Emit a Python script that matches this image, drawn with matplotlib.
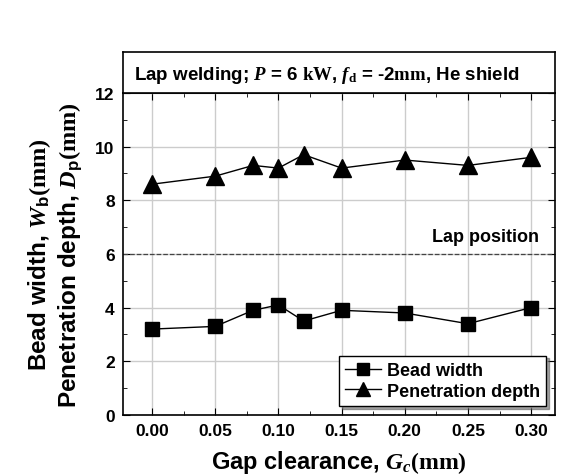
import matplotlib.pyplot as plt
import numpy as np

gap = [0.00, 0.05, 0.08, 0.10, 0.12, 0.15, 0.20, 0.25, 0.30]
bead_width = [3.2, 3.3, 3.9, 4.1, 3.5, 3.9, 3.8, 3.4, 4.0]
pen_depth = [8.6, 8.9, 9.3, 9.2, 9.7, 9.2, 9.5, 9.3, 9.6]
lap_pos = 6

plt.rcParams['font.family'] = 'Liberation Sans'
plt.rcParams['font.weight'] = 'bold'
plt.rcParams['mathtext.fontset'] = 'custom'
plt.rcParams['mathtext.rm'] = 'Liberation Serif'
plt.rcParams['mathtext.it'] = 'Liberation Serif:italic:bold'
plt.rcParams['mathtext.bf'] = 'Liberation Sans:bold'

fig = plt.figure(figsize=(5.63, 4.77), dpi=100)
ax = fig.add_axes([0.2185, 0.128, 0.7675, 0.675])

ax.plot(gap, bead_width, 'k-', marker='s', ms=10, lw=1, label='Bead width')
ax.plot(gap, pen_depth, 'k-', marker='^', ms=13, lw=1, label='Penetration depth')
ax.axhline(lap_pos, color='#444444', ls='--', lw=0.9)
ax.text(0.306, 6.35, 'Lap position', ha='right', va='bottom', fontsize=13, fontweight='bold')

ax.set_xlim(-0.023, 0.319)
ax.set_ylim(0, 12)
ax.set_xticks(np.arange(0, 0.31, 0.05))
ax.set_xticks(np.arange(0.025, 0.31, 0.05), minor=True)
ax.set_yticks(np.arange(0, 13, 2))
ax.set_yticks(np.arange(1, 12, 2), minor=True)
ax.set_xticklabels(['%.2f' % v for v in np.arange(0, 0.31, 0.05)])
ax.tick_params(which='both', direction='in', top=True, right=True, labelsize=12.5)
ax.tick_params(which='major', length=5, pad=6)
ax.tick_params(which='minor', length=3)
ax.grid(True, color='#cccccc', lw=1)
ax.set_axisbelow(True)
for s in ax.spines.values():
    s.set_linewidth(1.2)

ax.set_xlabel(r'Gap clearance, $\mathit{G}_\mathit{c}\mathrm{(mm)}$', fontsize=17,
              fontweight='bold', labelpad=7)
ax.set_ylabel('Bead width, $\\mathit{W}_\\mathbf{b}\\mathrm{(mm)}$\n'
              'Penetration depth, $\\mathit{D}_\\mathbf{p}\\mathrm{(mm)}$',
              fontsize=17.5, fontweight='bold', linespacing=1.15, labelpad=8)

leg = ax.legend(loc='lower right', fontsize=13, shadow=True, fancybox=False,
                edgecolor='black', framealpha=1, handlelength=2.0,
                borderaxespad=0.5, labelspacing=0.2, borderpad=0.35,
                handletextpad=0.3, markerscale=0.8)
leg.get_frame().set_linewidth(1)

# title box above the plot area
tax = fig.add_axes([0.2185, 0.803, 0.7675, 0.086])
tax.set_xticks([])
tax.set_yticks([])
for s in tax.spines.values():
    s.set_linewidth(1.2)
tax.text(0.025, 0.45, r'Lap welding; $\mathit{P}$ = 6 $\mathrm{kW}$, $\mathit{f}_\mathrm{d}$ = -2$\mathrm{mm}$, He shield',
         ha='left', va='center', fontsize=13.5, fontweight='bold', transform=tax.transAxes)

fig.savefig('out.png', dpi=100)
